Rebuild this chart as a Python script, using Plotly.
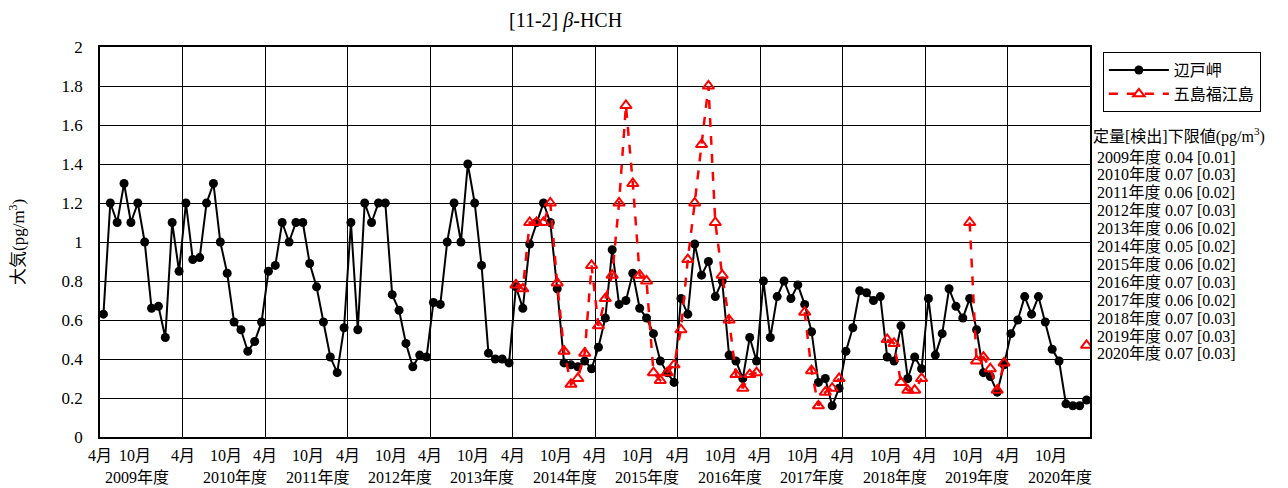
import plotly.graph_objects as go

# Fiscal-year months (April .. March), 12 fiscal years 2009-2020
fiscal_years = ["2009年度", "2010年度", "2011年度", "2012年度", "2013年度", "2014年度",
                "2015年度", "2016年度", "2017年度", "2018年度", "2019年度", "2020年度"]

hedo = [
    0.63, 1.2, 1.1, 1.3, 1.1, 1.2, 1.0, 0.66, 0.67, 0.51, 1.1, 0.85,
    1.2, 0.91, 0.92, 1.2, 1.3, 1.0, 0.84, 0.59, 0.55, 0.44, 0.49, 0.59,
    0.85, 0.88, 1.1, 1.0, 1.1, 1.1, 0.89, 0.77, 0.59, 0.41, 0.33, 0.56,
    1.1, 0.55, 1.2, 1.1, 1.2, 1.2, 0.73, 0.65, 0.48, 0.36, 0.42, 0.41,
    0.69, 0.68, 1.0, 1.2, 1.0, 1.4, 1.2, 0.88, 0.43, 0.40, 0.40, 0.38,
    0.77, 0.66, 0.99, 1.1, 1.2, 1.1, 0.76, 0.38, 0.37, 0.36, 0.39, 0.35,
    0.46, 0.61, 0.96, 0.68, 0.70, 0.84, 0.66, 0.61, 0.53, 0.39, 0.33, 0.28,
    0.71, 0.63, 0.99, 0.83, 0.90, 0.72, 0.80, 0.42, 0.39, 0.30, 0.51, 0.39,
    0.80, 0.51, 0.72, 0.80, 0.71, 0.78, 0.68, 0.54, 0.28, 0.30, 0.16, 0.25,
    0.44, 0.56, 0.75, 0.74, 0.70, 0.72, 0.41, 0.39, 0.57, 0.30, 0.41, 0.35,
    0.71, 0.42, 0.53, 0.76, 0.67, 0.61, 0.71, 0.55, 0.33, 0.31, 0.23, 0.37,
    0.53, 0.60, 0.72, 0.63, 0.72, 0.59, 0.45, 0.39, 0.17, 0.16, 0.16, 0.19,
]

N = None
goto = [
    N, N, N, N, N, N, N, N, N, N, N, N,
    N, N, N, N, N, N, N, N, N, N, N, N,
    N, N, N, N, N, N, N, N, N, N, N, N,
    N, N, N, N, N, N, N, N, N, N, N, N,
    N, N, N, N, N, N, N, N, N, N, N, N,
    0.78, 0.76, 1.10, 1.10, 1.10, 1.20, 0.79, 0.44, 0.27, 0.30, 0.43, 0.88,
    0.57, 0.71, 0.83, 1.20, 1.70, 1.30, 0.83, 0.80, 0.33, 0.29, 0.33, 0.37,
    0.55, 0.91, 1.20, 1.50, 1.80, 1.10, 0.83, 0.60, 0.32, 0.25, 0.32, 0.33,
    N, N, N, N, N, N, 0.64, 0.34, 0.16, 0.23, 0.25, 0.30,
    N, N, N, N, N, N, 0.50, 0.48, 0.28, 0.24, 0.24, 0.30,
    N, N, N, N, N, N, 1.10, 0.39, 0.41, 0.35, 0.24, 0.38,
    N, N, N, N, N, N, N, N, N, N, N, 0.47,
]

limit_years = ["2009年度", "2010年度", "2011年度", "2012年度", "2013年度", "2014年度",
               "2015年度", "2016年度", "2017年度", "2018年度", "2019年度", "2020年度"]
quant_limits = ["0.04", "0.07", "0.06", "0.07", "0.06", "0.05",
                "0.06", "0.07", "0.06", "0.07", "0.07", "0.07"]
detect_limits = ["0.01", "0.03", "0.02", "0.03", "0.02", "0.02",
                 "0.02", "0.03", "0.02", "0.03", "0.03", "0.03"]

y_ticks = [0, 0.2, 0.4, 0.6, 0.8, 1.0, 1.2, 1.4, 1.6, 1.8, 2.0]
y_ticktext = ["0", "0.2", "0.4", "0.6", "0.8", "1", "1.2", "1.4", "1.6", "1.8", "2"]

FONT = "Liberation Serif, 'Times New Roman', 'Noto Sans CJK JP', serif"

n_months = len(hedo)
x = [i + 0.5 for i in range(n_months)]

fig = go.Figure()
fig.add_trace(go.Scatter(
    x=x, y=hedo, name="辺戸岬", mode="lines+markers",
    line=dict(color="black", width=2),
    marker=dict(symbol="circle", size=9, color="black"),
))
fig.add_trace(go.Scatter(
    x=x, y=goto, name="五島福江島", mode="lines+markers",
    line=dict(color="#ff0000", width=2.5, dash="dash"),
    marker=dict(symbol="triangle-up-open", size=10, color="#ff0000",
                line=dict(color="#ff0000", width=2)),
    connectgaps=False,
))

annotations = []
# Month labels and fiscal-year labels
for k, fy in enumerate(fiscal_years):
    annotations.append(dict(x=12 * k, y=0, xref="x", yref="paper", text="4月",
                            showarrow=False, yshift=-18, yanchor="middle",
                            font=dict(size=16)))
    annotations.append(dict(x=12 * k + (5.1 if k == 0 else 6.3), y=0, xref="x", yref="paper",
                            text="10月", showarrow=False, yshift=-18, yanchor="middle",
                            font=dict(size=16)))
    annotations.append(dict(x=12 * k + (5.4 if k == 0 else 7.6), y=0, xref="x", yref="paper",
                            text=fy, showarrow=False, yshift=-40, yanchor="middle",
                            font=dict(size=16)))

# Title
annotations.append(dict(x=0.4697, y=1, xref="paper", yref="paper",
                        text="[11-2] <i>β</i>-HCH", showarrow=False, yshift=27,
                        yanchor="middle", xanchor="center", font=dict(size=20)))
# Y axis title
annotations.append(dict(x=0, y=0.5, xref="paper", yref="paper", xshift=-83,
                        xanchor="center", yanchor="middle",
                        text="大気(pg/m<sup>3</sup>)", textangle=-90, showarrow=False,
                        font=dict(size=17)))
# Limits text
annotations.append(dict(x=1, y=1, xref="paper", yref="paper", xanchor="left",
                        xshift=1, yshift=-(135 - 47), yanchor="middle",
                        text="定量[検出]下限値(pg/m<sup>3</sup>)", showarrow=False,
                        font=dict(size=16)))
for j, (yr, q, d) in enumerate(zip(limit_years, quant_limits, detect_limits)):
    annotations.append(dict(x=1, y=1, xref="paper", yref="paper", xanchor="left",
                            xshift=5, yshift=-(157 + 17.9 * j - 47), yanchor="middle",
                            text=f"{yr} {q} [{d}]", showarrow=False,
                            font=dict(size=16)))

fig.update_layout(
    width=1288, height=488,
    margin=dict(l=100, r=198, t=47, b=51),
    paper_bgcolor="white", plot_bgcolor="white",
    font=dict(family=FONT, color="black", size=16),
    showlegend=True,
    legend=dict(x=1.013, y=0.987, xanchor="left", yanchor="top",
                bordercolor="black", borderwidth=1, bgcolor="white",
                font=dict(size=16), itemwidth=60,
                tracegroupgap=0),
    annotations=annotations,
    xaxis=dict(range=[0, n_months], tickvals=list(range(0, n_months + 1, 12)),
               showticklabels=False, ticks="", showgrid=True, gridcolor="black",
               gridwidth=1, showline=True, linecolor="black", linewidth=1.5,
               mirror=True, zeroline=False, fixedrange=True),
    yaxis=dict(range=[0, 2], tickvals=y_ticks, ticktext=y_ticktext,
               showgrid=True, gridcolor="black", gridwidth=1,
               showline=True, linecolor="black", linewidth=1.5, mirror=True,
               zeroline=False, ticks="", ticklabelstandoff=12,
               tickfont=dict(size=17)),
)

fig.write_html("out.html")
